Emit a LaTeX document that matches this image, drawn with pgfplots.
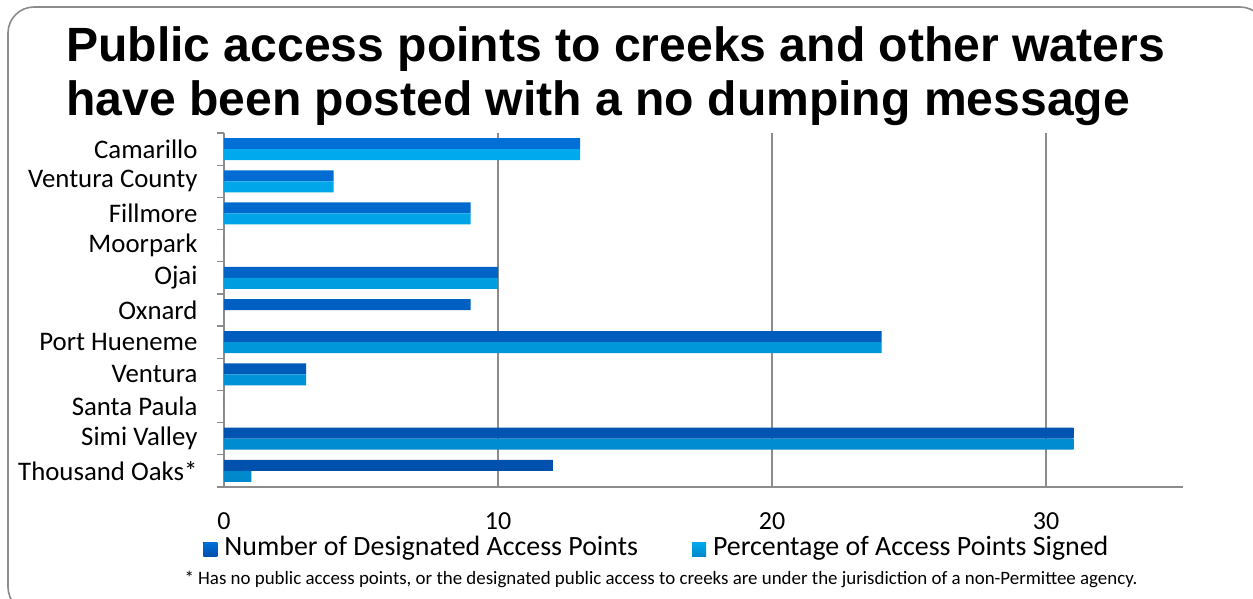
\documentclass[border=0pt]{standalone}
\usepackage{pgfplots}
\pgfplotsset{compat=1.18}
\usepackage{pgfplotstable}
\usepackage{fontspec}
\setmainfont{Carlito}
\newfontfamily\titlefont{Liberation Sans}
\definecolor{darkA}{HTML}{0070D8}
\definecolor{darkB}{HTML}{0050AC}
\definecolor{lightA}{HTML}{00AAEE}
\definecolor{lightB}{HTML}{0088CC}
\definecolor{gridc}{HTML}{8C8C8C}

\pgfplotstableread{
idx num pct
10 13 13
9 4 4
8 9 9
7 0 0
6 10 10
5 9 0
4 24 24
3 3 3
2 0 0
1 31 31
0 12 1
}\data

\begin{document}
\begin{tikzpicture}
\useasboundingbox (0,0) rectangle (1253pt,-599pt);
\fill[white] (0,0) rectangle (1253pt,-599pt);
\draw[gridc, line width=1.6pt, rounded corners=26pt] (8pt,-7pt) rectangle (1266pt,-613pt);
\node[anchor=base west, inner sep=0pt] at (66pt,-62pt) {\titlefont\bfseries\fontsize{48.1}{54}\selectfont Public access points to creeks and other waters};
\node[anchor=base west, inner sep=0pt] at (66pt,-116pt) {\titlefont\bfseries\fontsize{48.1}{54}\selectfont have been posted with a no dumping message};
\node[anchor=base, inner sep=0pt] at (661pt,-584pt) {\fontsize{18.9}{22}\selectfont * Has no public access points, or the designated public access to creeks are under the jurisdiction of a non-Permittee agency.};
\begin{axis}[
  at={(224pt,-487pt)}, anchor=south west,
  scale only axis, width=959pt, height=354pt,
  xmin=0, xmax=35, ymin=-0.5, ymax=10.5,
  xbar, bar width=11pt,
  axis x line*=bottom, axis y line*=left,
  axis line style={gridc, line width=1.3pt, -},
  xtick={0,10,20,30},
  xmajorgrids, grid style={gridc, line width=1.3pt},
  major tick length=0pt,
  ytick={0,...,10},
  yticklabels={Thousand Oaks*, Simi Valley, Santa Paula, Ventura, Port Hueneme, Oxnard, Ojai, Moorpark, Fillmore, Ventura County, Camarillo},
  minor ytick={-0.5,0.5,...,10.5},
  minor y tick style={gridc, line width=1.3pt},
  minor tick length=7pt,
  tick align=outside,
  yticklabel style={font=\fontsize{26.8}{30}\selectfont, xshift=-23pt},
  xticklabel style={font=\fontsize{26}{30}\selectfont, yshift=-22pt},
  /pgf/number format/assume math mode=true,
  legend style={draw=none, fill=none, legend columns=2, at={(-0.0248,-0.167)}, anchor=west,
    font=\fontsize{27.9}{30}\selectfont,
    /tikz/every even column/.append style={column sep=52pt}},
  legend image code/.code={\fill[#1] (0pt,-10pt) rectangle (14pt,4pt); \path (19pt,0pt);},
]
\addplot[draw=none, top color=darkA, bottom color=darkB, bar shift=5.5pt] table[x=num, y=idx] {\data};
\addplot[draw=none, top color=lightA, bottom color=lightB, bar shift=-5.5pt] table[x=pct, y=idx] {\data};
\legend{Number of Designated Access Points, Percentage of Access Points Signed}
\end{axis}
\end{tikzpicture}
\end{document}
